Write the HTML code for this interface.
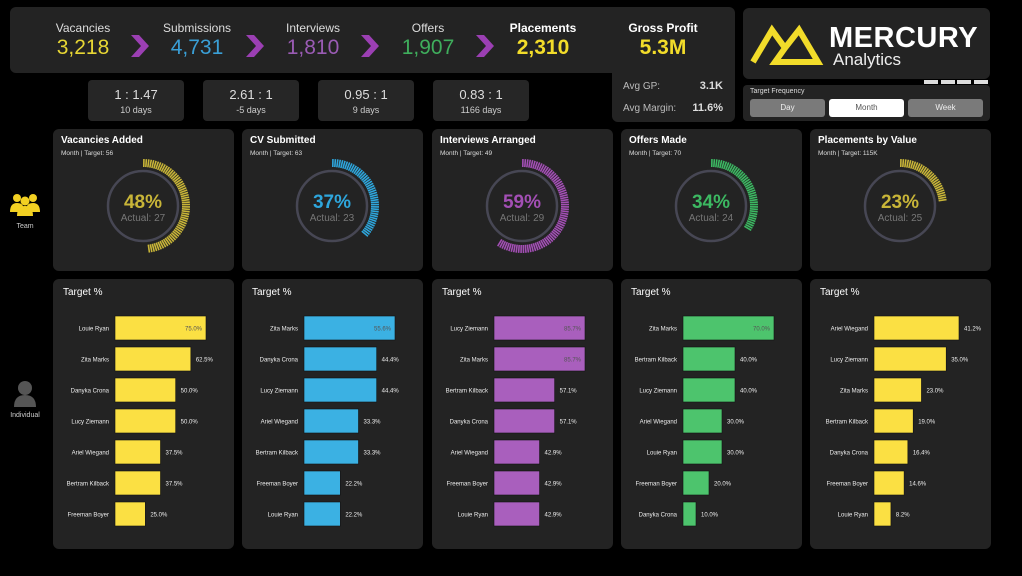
<!DOCTYPE html>
<html><head><meta charset="utf-8">
<style>
*{margin:0;padding:0;box-sizing:border-box}
body{width:1022px;height:576px;background:#000;overflow:hidden;font-family:"Liberation Sans",sans-serif;color:#fff;position:relative}
.abs{position:absolute}
.panel{position:absolute;background:#232323;border-radius:6px}
.kl{position:absolute;width:110px;text-align:center;font-size:12px;color:#ddd}
.kv{position:absolute;width:110px;text-align:center;font-size:21px}
.rb{position:absolute;top:80px;width:96px;height:41px;background:#262626;border-radius:4px;text-align:center}
.rb .a{font-size:13px;color:#ddd;margin-top:7px}
.rb .b{font-size:9px;color:#ccc;margin-top:3px}
.btn{position:absolute;top:99px;width:75px;height:18px;border-radius:3px;background:#7a7a7a;color:#eee;font-size:8px;text-align:center;line-height:18px}
.ct{position:absolute;font-size:10px;font-weight:bold;color:#fff}
.cs{position:absolute;font-size:6.5px;color:#ddd}
</style></head><body>
<div class="panel" style="left:10px;top:7px;width:725px;height:66px"></div>
<div class="panel" style="left:612px;top:60px;width:123px;height:62px;border-radius:0 0 6px 6px"></div>

<div class="kl" style="left:28px;top:21px">Vacancies</div>
<div class="kv" style="left:28px;top:36px;color:#e7d634">3,218</div>
<div class="kl" style="left:142px;top:21px">Submissions</div>
<div class="kv" style="left:142px;top:36px;color:#3a9fd6">4,731</div>
<div class="kl" style="left:258px;top:21px">Interviews</div>
<div class="kv" style="left:258px;top:36px;color:#9a5bb4">1,810</div>
<div class="kl" style="left:373px;top:21px">Offers</div>
<div class="kv" style="left:373px;top:36px;color:#3fae5c">1,907</div>
<div class="kl" style="left:488px;top:21px;font-weight:bold;color:#fff">Placements</div>
<div class="kv" style="left:488px;top:36px;color:#f2dc2a;font-weight:bold">2,310</div>
<div class="kl" style="left:608px;top:21px;font-weight:bold;color:#fff">Gross Profit</div>
<div class="kv" style="left:608px;top:36px;color:#f2dc2a;font-weight:bold">5.3M</div>

<svg class="abs" style="left:0;top:0" width="520" height="80">
<g fill="#9b3fb3">
<polygon points="131,35 139,35 149,46 139,57 131,57 141,46"/>
<polygon points="246,35 254,35 264,46 254,57 246,57 256,46"/>
<polygon points="361,35 369,35 379,46 369,57 361,57 371,46"/>
<polygon points="476,35 484,35 494,46 484,57 476,57 486,46"/>
</g></svg>

<div class="rb" style="left:88px"><div class="a">1 : 1.47</div><div class="b">10 days</div></div>
<div class="rb" style="left:203px"><div class="a">2.61 : 1</div><div class="b">-5 days</div></div>
<div class="rb" style="left:318px"><div class="a">0.95 : 1</div><div class="b">9 days</div></div>
<div class="rb" style="left:433px"><div class="a">0.83 : 1</div><div class="b">1166 days</div></div>

<div class="abs" style="left:623px;top:81px;font-size:10px;color:#bbb">Avg GP:</div>
<div class="abs" style="left:680px;width:43px;text-align:right;top:80px;font-size:11px;font-weight:bold;color:#ddd">3.1K</div>
<div class="abs" style="left:623px;top:103px;font-size:10px;color:#bbb">Avg Margin:</div>
<div class="abs" style="left:680px;width:43px;text-align:right;top:102px;font-size:11px;font-weight:bold;color:#ddd">11.6%</div>

<div class="panel" style="left:743px;top:8px;width:247px;height:71px"></div>
<svg class="abs" style="left:745px;top:20px" width="85" height="50">
<polyline points="8,42 27,10 40,28 54,10 73,42 30,42 40,28" fill="none" stroke="#f2dc2a" stroke-width="6" stroke-linejoin="miter"/>
</svg>
<div class="abs" style="left:829px;top:22px;font-size:29px;font-weight:bold;color:#fff;letter-spacing:0.5px">MERCURY</div>
<div class="abs" style="left:833px;top:50px;font-size:17px;color:#eee">Analytics</div>
<div class="abs" style="left:924px;top:80px;width:14px;height:4px;background:#ddd"></div>
<div class="abs" style="left:941px;top:80px;width:14px;height:4px;background:#ddd"></div>
<div class="abs" style="left:957px;top:80px;width:14px;height:4px;background:#ddd"></div>
<div class="abs" style="left:974px;top:80px;width:14px;height:4px;background:#ddd"></div>
<div class="panel" style="left:743px;top:85px;width:247px;height:36px;border-radius:4px"></div>
<div class="abs" style="left:750px;top:88px;font-size:7px;color:#ddd">Target Frequency</div>
<div class="btn" style="left:750px">Day</div>
<div class="btn" style="left:829px;background:#fff;color:#555">Month</div>
<div class="btn" style="left:908px">Week</div>

<svg class="abs" style="left:10px;top:192px" width="30" height="26">
<g fill="#f2d022"><circle cx="7" cy="6" r="4"/><circle cx="23" cy="6" r="4"/><path d="M0,20 Q0,11 7,11 Q12,11 13,14 L13,20Z"/><path d="M30,20 Q30,11 23,11 Q18,11 17,14 L17,20Z"/><circle cx="15" cy="9" r="4.5"/><path d="M7,24 Q7,14 15,14 Q23,14 23,24Z"/></g></svg>
<div class="abs" style="left:10px;top:223px;width:30px;text-align:center;font-size:7px;color:#ccc">Team</div>
<svg class="abs" style="left:13px;top:380px" width="24" height="28">
<g fill="#555"><circle cx="12" cy="8" r="7"/><path d="M1,27 Q1,15 12,15 Q23,15 23,27Z"/></g></svg>
<div class="abs" style="left:0;top:412px;width:50px;text-align:center;font-size:7px;color:#ccc">Individual</div>

<svg id="charts" class="abs" style="left:0;top:0" width="1022" height="576"></svg>

<script>
const gaugeTitles = ["Vacancies Added","CV Submitted","Interviews Arranged","Offers Made","Placements by Value"];
const gaugeTargets = ["56","63","49","70","115K"];
const gaugePercents = [48,37,59,34,23];
const gaugeActuals = [27,23,29,24,25];
const gaugeColors = ["#c8b538","#2ea6dc","#a34fb5","#3cb862","#c8b538"];
const barColors = ["#fbe043","#3bb1e3","#a95fbd","#4dc46d","#fbe043"];
const names1 = ["Louie Ryan","Zita Marks","Danyka Crona","Lucy Ziemann","Ariel Wiegand","Bertram Kilback","Freeman Boyer"];
const values1 = [75.0,62.5,50.0,50.0,37.5,37.5,25.0];
const names2 = ["Zita Marks","Danyka Crona","Lucy Ziemann","Ariel Wiegand","Bertram Kilback","Freeman Boyer","Louie Ryan"];
const values2 = [55.6,44.4,44.4,33.3,33.3,22.2,22.2];
const names3 = ["Lucy Ziemann","Zita Marks","Bertram Kilback","Danyka Crona","Ariel Wiegand","Freeman Boyer","Louie Ryan"];
const values3 = [85.7,85.7,57.1,57.1,42.9,42.9,42.9];
const names4 = ["Zita Marks","Bertram Kilback","Lucy Ziemann","Ariel Wiegand","Louie Ryan","Freeman Boyer","Danyka Crona"];
const values4 = [70.0,40.0,40.0,30.0,30.0,20.0,10.0];
const names5 = ["Ariel Wiegand","Lucy Ziemann","Zita Marks","Bertram Kilback","Danyka Crona","Freeman Boyer","Louie Ryan"];
const values5 = [41.2,35.0,23.0,19.0,16.4,14.6,8.2];
const allNames=[names1,names2,names3,names4,names5];
const allValues=[values1,values2,values3,values4,values5];

const NS="http://www.w3.org/2000/svg";
const svg=document.getElementById('charts');
function mk(tag,attrs,parent){const e=document.createElementNS(NS,tag);for(const k in attrs)e.setAttribute(k,attrs[k]);(parent||svg).appendChild(e);return e;}
const cardX=[53,242,432,621,810];

for(let i=0;i<5;i++){
  const x0=cardX[i];
  // gauge card
  const gc=mk('rect',{x:x0,y:129,width:181,height:142,rx:6,fill:'#232323'});
  
  
  const t=mk('text',{x:x0+8,y:143,'font-size':10,'font-weight':'bold',fill:'#fff'});t.textContent=gaugeTitles[i];
  
  
  const s=mk('text',{x:x0+8,y:155,'font-size':6.5,fill:'#ddd'});s.textContent='Month   |   Target: '+gaugeTargets[i];
  
  
  const cx=x0+90,cy=206;
  const c=mk('circle',{cx:cx,cy:cy,r:35,fill:'none',stroke:'#474754','stroke-width':2.5});
  
  
  const n=Math.round(gaugePercents[i]/100*120);
  const g=mk('g',{stroke:gaugeColors[i],'stroke-width':1.6});
  
  
  for(let k=0;k<n;k++){
    const a=(k/120)*2*Math.PI+0.02;
    const sx=Math.sin(a),sy=-Math.cos(a);
    mk('line',{x1:cx+sx*39,y1:cy+sy*39,x2:cx+sx*47,y2:cy+sy*47},g);
  }
  const p=mk('text',{x:cx,y:cy+2,'text-anchor':'middle','font-size':19,'font-weight':'bold',fill:gaugeColors[i]});p.textContent=gaugePercents[i]+'%';
  
  
  const ac=mk('text',{x:cx,y:cy+15,'text-anchor':'middle','font-size':10,fill:'#777'});ac.textContent='Actual: '+gaugeActuals[i];
  
  

  // bar card
  const bc=mk('rect',{x:x0,y:279,width:181,height:270,rx:6,fill:'#232323'});
  
  
  const bt=mk('text',{x:x0+10,y:295,'font-size':10,fill:'#fff'});bt.textContent='Target %';
  
  
  const names=allNames[i],vals=allValues[i];
  const bx=x0+(i===4?64:62);
  const maxV=Math.max(...vals);
  const wMax=(i===4?85:91);
  const xs=v=>v/maxV*wMax;
  const ys=k=>316+k*31;
  for(let k=0;k<vals.length;k++){
    const w=xs(vals[k]);
    const r=mk('rect',{x:bx,y:ys(k),width:w,height:24,fill:barColors[i],stroke:'#111','stroke-width':0.6});
    
    
    const l=mk('text',{x:bx-6,y:ys(k)+14.5,'text-anchor':'end','font-size':6,fill:'#eee'});l.textContent=names[k];
    
    
    const inside=w>wMax-4 && i!==4;
    const v=mk('text',{x:inside?bx+w-4:bx+w+5,y:ys(k)+14.5,'text-anchor':inside?'end':'start','font-size':6,fill:inside?'#555':'#eee'});
    v.textContent=vals[k].toFixed(1)+'%';
    
    
  }
}
</script>
</body></html>
